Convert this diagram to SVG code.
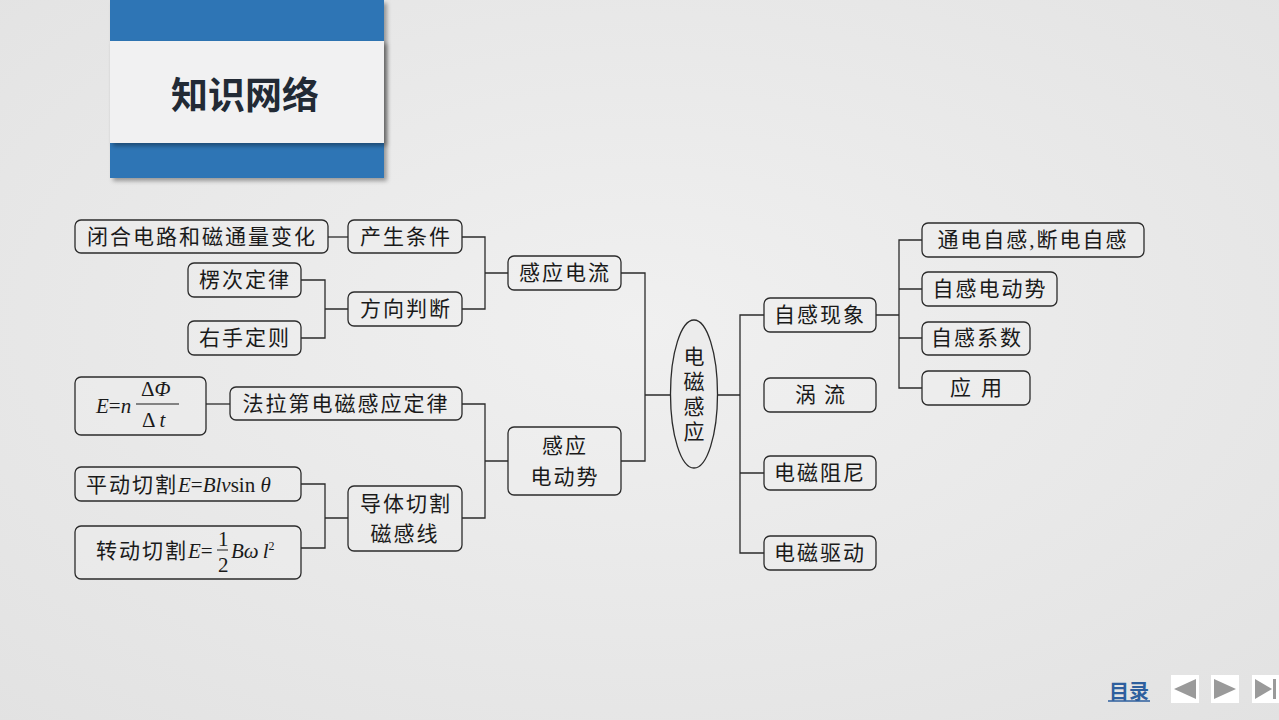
<svg xmlns="http://www.w3.org/2000/svg" width="1279" height="720" viewBox="0 0 1279 720">
<defs>
<radialGradient id="bg" cx="50%" cy="45%" r="75%">
<stop offset="0" stop-color="#f0f0f0"/>
<stop offset="1" stop-color="#e2e2e2"/>
</radialGradient>
<filter id="sh" x="-10%" y="-10%" width="130%" height="130%">
<feDropShadow dx="3" dy="3" stdDeviation="2" flood-color="#000" flood-opacity="0.35"/>
</filter>
<style>
.n rect{fill:#f2f2f2;fill-opacity:0.35;stroke:#2b2b2b;stroke-width:1.3}
.t{font-family:"Liberation Serif","Noto Sans CJK SC",serif;font-size:21px;fill:#1a1a1a;letter-spacing:2px;text-anchor:middle;dominant-baseline:central}
.m{font-family:"Liberation Serif","Noto Sans CJK SC",serif;font-size:21px;fill:#1a1a1a}
.i{font-style:italic}
#connectors path{fill:none;stroke:#2b2b2b;stroke-width:1.3}
</style>
</defs>
<rect width="1279" height="720" fill="url(#bg)"/>

<g id="header">
<rect x="110" y="0" width="274" height="178" fill="#2e74b5" filter="url(#sh)"/>
<rect x="110" y="41" width="274" height="102" fill="#f1f1f2" filter="url(#sh)"/>
<text x="245" y="93" font-family="'Noto Sans CJK SC','Noto Sans',sans-serif" font-weight="bold" font-size="37" fill="#222a35" text-anchor="middle" dominant-baseline="central">知识网络</text>
</g>

<g id="connectors">
<path d="M328 237H348"/>
<path d="M462 237H485V309H462M485 273H508"/>
<path d="M301 280H325V338H301M325 309H348"/>
<path d="M621 273H645V461H621M645 395H671"/>
<path d="M206 404H230"/>
<path d="M462 404H485V518H462M485 461H508"/>
<path d="M301 484H325V548H301M325 518H348"/>
<path d="M717 395H740M764 315H740V553H764M740 473H764"/>
<path d="M876 315H899M922 240H899V388H922M899 289H922M899 338H922"/>
</g>

<g id="n-bihe" class="n"><rect x="75" y="220" width="253" height="33" rx="6"/><text class="t" x="202" y="237">闭合电路和磁通量变化</text></g>
<g id="n-chansheng" class="n"><rect x="348" y="220" width="114" height="33" rx="6"/><text class="t" x="406" y="237">产生条件</text></g>
<g id="n-lenci" class="n"><rect x="188" y="263" width="113" height="34" rx="6"/><text class="t" x="245" y="280">楞次定律</text></g>
<g id="n-youshou" class="n"><rect x="188" y="321" width="113" height="34" rx="6"/><text class="t" x="245" y="338">右手定则</text></g>
<g id="n-fangxiang" class="n"><rect x="348" y="292" width="114" height="34" rx="6"/><text class="t" x="406" y="309">方向判断</text></g>
<g id="n-ganyingdianliu" class="n"><rect x="508" y="256" width="113" height="34" rx="6"/><text class="t" x="565" y="273">感应电流</text></g>

<g id="n-formula1" class="n"><rect x="75" y="377" width="131" height="58" rx="6"/>
<text class="m" x="96" y="413"><tspan class="i">E</tspan>=<tspan class="i">n</tspan></text>
<text class="m" x="141" y="396">Δ<tspan class="i">Φ</tspan></text>
<line x1="136" y1="404" x2="179" y2="404" stroke="#1a1a1a" stroke-width="1.2"/>
<text class="m" x="142" y="427">Δ <tspan class="i">t</tspan></text>
</g>
<g id="n-faladi" class="n"><rect x="230" y="387" width="232" height="33" rx="6"/><text class="t" x="346" y="404">法拉第电磁感应定律</text></g>
<g id="n-pingdong" class="n"><rect x="75" y="467" width="226" height="34" rx="6"/>
<text class="m" x="86" y="492" style="letter-spacing:2px">平动切割<tspan class="i" style="letter-spacing:0">E</tspan><tspan style="letter-spacing:0">=</tspan><tspan class="i" style="letter-spacing:0">Blv</tspan><tspan style="letter-spacing:0">sin </tspan><tspan class="i">θ</tspan></text>
</g>
<g id="n-zhuandong" class="n"><rect x="75" y="526" width="226" height="53" rx="6"/>
<text class="m" x="96" y="558" style="letter-spacing:2px">转动切割<tspan class="i" style="letter-spacing:0">E</tspan><tspan style="letter-spacing:0">=</tspan></text>
<text class="m" x="218" y="546" font-size="18">1</text>
<line x1="217" y1="550" x2="228" y2="550" stroke="#1a1a1a" stroke-width="1"/>
<text class="m" x="218" y="572" font-size="18">2</text>
<text class="m i" x="231" y="558">B<tspan>ω</tspan><tspan dx="4">l</tspan><tspan font-size="12" dy="-8" font-style="normal">2</tspan></text>
</g>
<g id="n-daoti" class="n"><rect x="348" y="486" width="114" height="65" rx="6"/><text class="t" x="406" y="504">导体切割</text><text class="t" x="405" y="534">磁感线</text></g>
<g id="n-dongshi" class="n"><rect x="508" y="427" width="113" height="68" rx="6"/><text class="t" x="565" y="446">感应</text><text class="t" x="565" y="477">电动势</text></g>

<g id="n-center"><ellipse cx="694" cy="394" rx="23.5" ry="74" fill="#ececec" stroke="#2b2b2b" stroke-width="1.3"/>
<text class="t" x="694" y="357" style="letter-spacing:0">电</text><text class="t" x="694" y="382" style="letter-spacing:0">磁</text><text class="t" x="694" y="407" style="letter-spacing:0">感</text><text class="t" x="694" y="432" style="letter-spacing:0">应</text></g>

<g id="n-zigan" class="n"><rect x="764" y="298" width="112" height="34" rx="6"/><text class="t" x="820" y="315">自感现象</text></g>
<g id="n-woliu" class="n"><rect x="764" y="378" width="112" height="34" rx="6"/><text class="t" x="824" y="395" style="letter-spacing:8px">涡流</text></g>
<g id="n-zuni" class="n"><rect x="764" y="456" width="112" height="34" rx="6"/><text class="t" x="820" y="473">电磁阻尼</text></g>
<g id="n-qudong" class="n"><rect x="764" y="536" width="112" height="34" rx="6"/><text class="t" x="820" y="553">电磁驱动</text></g>
<g id="n-tongdian" class="n"><rect x="922" y="223" width="222" height="34" rx="6"/><text class="t" x="1033" y="240">通电自感,断电自感</text></g>
<g id="n-ziganshi" class="n"><rect x="922" y="272" width="135" height="34" rx="6"/><text class="t" x="990" y="289">自感电动势</text></g>
<g id="n-xishu" class="n"><rect x="922" y="322" width="108" height="33" rx="6"/><text class="t" x="977" y="338">自感系数</text></g>
<g id="n-yingyong" class="n"><rect x="922" y="371" width="108" height="34" rx="6"/><text class="t" x="981" y="388" style="letter-spacing:10px">应用</text></g>

<g id="nav">
<text x="1129" y="690" font-family="'Noto Sans CJK SC',sans-serif" font-weight="bold" font-size="20" fill="#2e5f9e" text-anchor="middle" dominant-baseline="central">目录</text>
<line x1="1108" y1="701" x2="1150" y2="701" stroke="#2e5f9e" stroke-width="1.5"/>
<rect x="1171" y="675" width="28" height="28" fill="#ffffff"/>
<polygon points="1174,689 1196,679 1196,699" fill="#9a9a9a"/>
<rect x="1211" y="675" width="28" height="28" fill="#ffffff"/>
<polygon points="1214,679 1236,689 1214,699" fill="#9a9a9a"/>
<rect x="1252" y="675" width="27" height="28" fill="#ffffff"/>
<polygon points="1255,679 1272,689 1255,699" fill="#9a9a9a"/>
<rect x="1273" y="679" width="3" height="20" fill="#9a9a9a"/>
</g>
</svg>
